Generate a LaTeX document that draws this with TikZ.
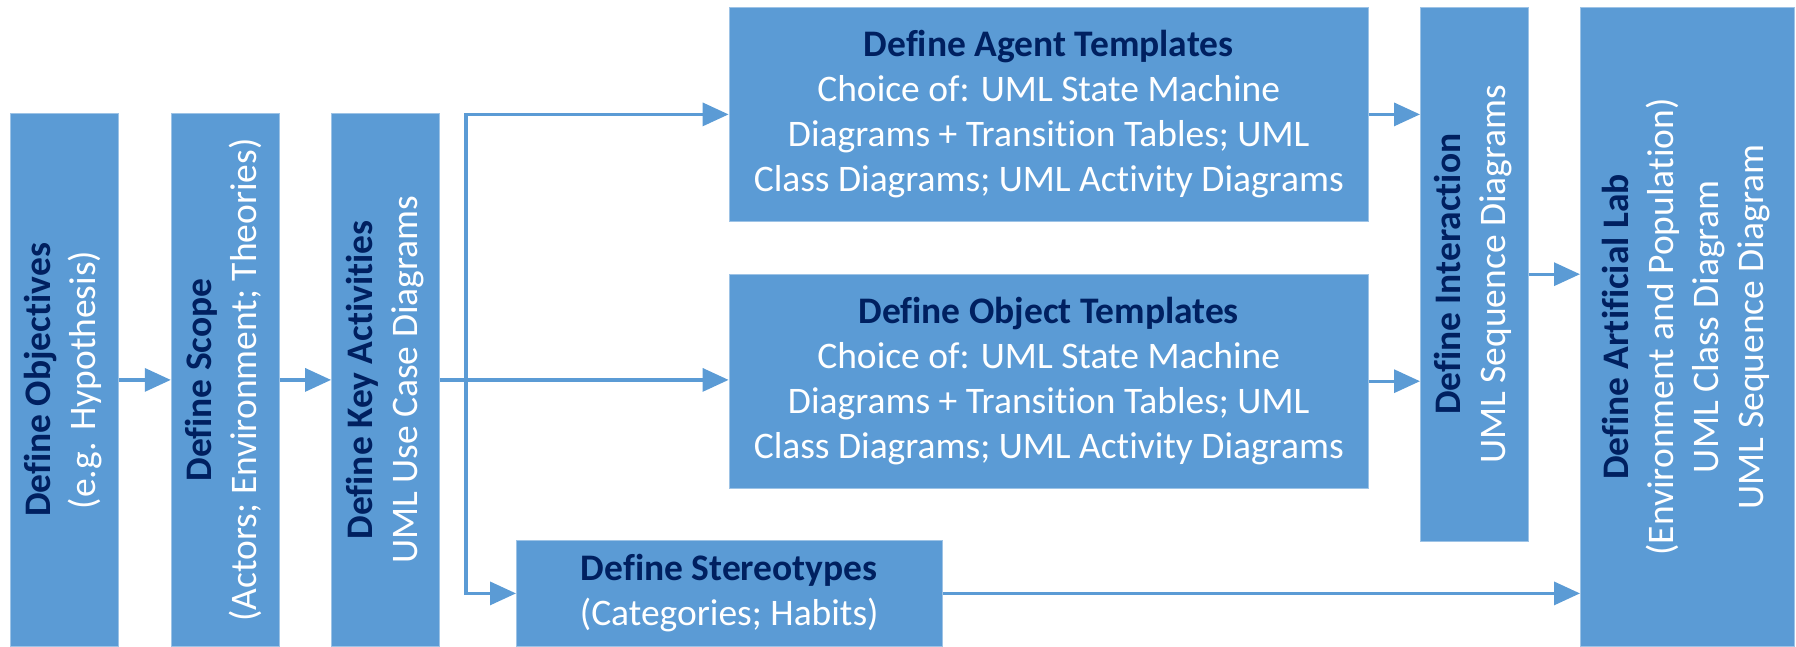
\documentclass[tikz,border=0pt]{standalone}
\usepackage{fontspec}
\setmainfont{Carlito}[Ligatures=NoCommon]
\usepackage{graphicx}
\usetikzlibrary{positioning,arrows.meta}
\definecolor{boxblue}{RGB}{91,155,213}
\definecolor{titleblue}{RGB}{0,32,96}
\newcommand{\steptitle}[1]{\textcolor{titleblue}{\textbf{#1}}}
\newcommand{\turnedtext}[1]{\rotatebox{90}{\begin{tabular}{@{}c@{}}#1\end{tabular}}}

\begin{document}
\begin{tikzpicture}[x=1pt, y=-1pt,
    tallbox/.style={rectangle, fill=boxblue, draw=boxblue!60!white, line width=0.8pt, inner sep=0pt, text=white, minimum width=108pt, minimum height=533pt, font=\fontsize{37.5}{45}\selectfont},
    widebox/.style={rectangle, fill=boxblue, draw=boxblue!60!white, line width=0.8pt, inner sep=0pt, text=white, align=center, font=\fontsize{37.5}{45}\selectfont},
    arrow/.style={-{Triangle[length=26pt, width=23pt]}, draw=boxblue, line width=3.3pt}
]
\useasboundingbox (0,0) rectangle (1796,646);

% First steps
\node[tallbox, anchor=north west] (obj) at (10,113) {\turnedtext{\steptitle{Define Objectives}\\(e.g. Hypothesis)}};
\node[tallbox, right=52pt of obj] (scope) {\turnedtext{\steptitle{Define Scope}\\(Actors; Environment; Theories)}};
\node[tallbox, right=51.5pt of scope] (keyact) {\turnedtext{\steptitle{Define Key Activities}\\UML Use Case Diagrams}};
\coordinate[right=26pt of keyact.east] (split);

% Templates
\node[widebox, minimum width=639.4pt, minimum height=214pt, anchor=north west] (agent) at (728.6,7) {\steptitle{Define Agent Templates}\\Choice of: UML State Machine\\Diagrams + Transition Tables; UML\\Class Diagrams; UML Activity Diagrams};
\node[widebox, minimum width=639.4pt, minimum height=214pt, below=52pt of agent] (object) {\steptitle{Define Object Templates}\\Choice of: UML State Machine\\Diagrams + Transition Tables; UML\\Class Diagrams; UML Activity Diagrams};
\node[widebox, minimum width=425.7pt, minimum height=106pt, anchor=north west] (stereo) at (516,540) {\steptitle{Define Stereotypes}\\(Categories; Habits)};

% Interaction and lab
\node[tallbox, minimum height=533.6pt, anchor=north west] (interact) at (1420,7) {\turnedtext{\steptitle{Define Interaction}\\UML Sequence Diagrams}};
\node[tallbox, minimum width=214pt, minimum height=639pt, anchor=north west] (lab) at (1580,7) {\turnedtext{\steptitle{Define Artificial Lab}\\(Environment and Population)\\UML Class Diagram\\UML Sequence Diagram}};

% Arrows
\draw[arrow] (obj) -- (scope);
\draw[arrow] (scope) -- (keyact);
\draw[arrow] (keyact.east) -- (keyact.east -| object.west);
\draw[arrow] (split) |- (agent.west);
\draw[arrow] (split) |- (stereo.west);
\draw[arrow] (agent.east) -- (agent.east -| interact.west);
\draw[arrow] (object.east) -- (object.east -| interact.west);
\draw[arrow] (interact.east) -- (interact.east -| lab.west);
\draw[arrow] (stereo.east) -- (stereo.east -| lab.west);

\end{tikzpicture}
\end{document}
